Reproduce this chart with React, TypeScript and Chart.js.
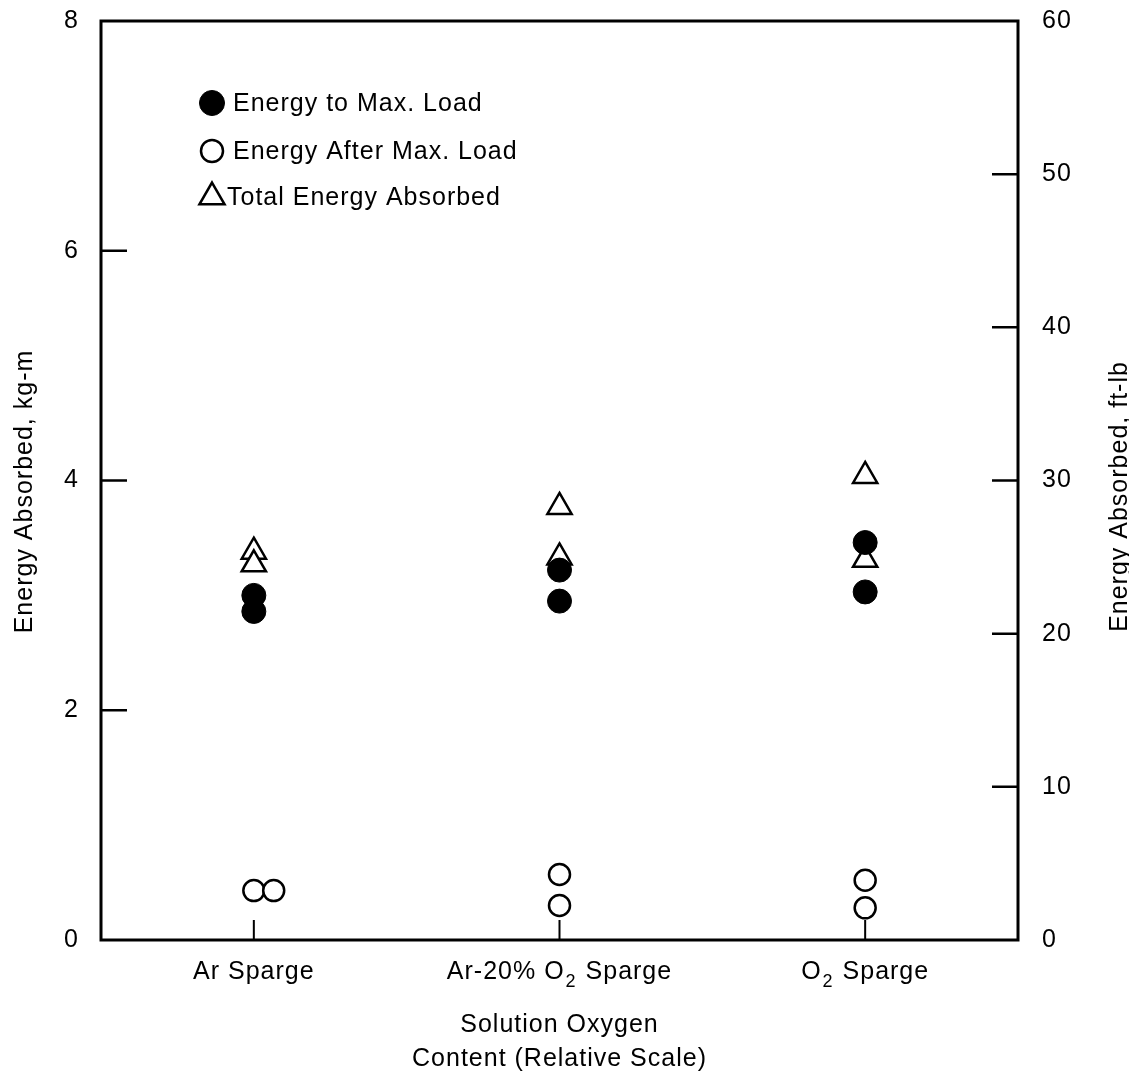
import { useEffect, useRef } from 'react';
import { Chart, registerables } from 'chart.js';
import { drawPoint } from 'chart.js/helpers';

Chart.register(...registerables);

// Sparge conditions, ordered by increasing solution oxygen content
const categories = ['Ar Sparge', 'Ar-20% O\u2082 Sparge', 'O\u2082 Sparge'];

// Two specimens per condition, energies in kg-m
const energyToMaxLoad = [
  [3.0, 2.86],
  [3.22, 2.95],
  [3.46, 3.03],
];
const energyAfterMaxLoad = [
  [0.43, 0.43],
  [0.57, 0.3],
  [0.52, 0.28],
];
const totalEnergyAbsorbed = [
  [3.38, 3.27],
  [3.77, 3.33],
  [4.04, 3.31],
];
// The Ar sparge "after max. load" pair is plotted side by side instead of stacked
const afterMaxLoadSpread = [
  [0, 0.065],
  [0, 0],
  [0, 0],
];

const kgmTicks = [0, 2, 4, 6, 8];
const ftlbTicks = [0, 10, 20, 30, 40, 50, 60];

const leftTitle = 'Energy Absorbed, kg-m';
const rightTitle = 'Energy Absorbed, ft-lb';
const xTitle = ['Solution Oxygen', 'Content (Relative Scale)'];

const FONT = '"Liberation Sans", Arial, Helvetica, sans-serif';
const FONT_SIZE = 25;
const SUB_SIZE = 18;
const TRACKING = '1px';

const toPoints = (series: number[][], spread?: number[][]) =>
  series.flatMap((vals, i) =>
    vals.map((y, j) => ({ x: i + 0.5 + (spread ? spread[i][j] : 0), y }))
  );

// Splits a label into plain runs and subscript digits
const SUBSCRIPT_DIGITS = '\u2080\u2081\u2082\u2083\u2084\u2085\u2086\u2087\u2088\u2089';
const splitSubscripts = (label: string) => {
  const parts: { text: string; sub: boolean }[] = [];
  for (const ch of label) {
    const d = SUBSCRIPT_DIGITS.indexOf(ch);
    const sub = d >= 0;
    const text = sub ? String(d) : ch;
    const last = parts[parts.length - 1];
    if (last && last.sub === sub) last.text += text;
    else parts.push({ text, sub });
  }
  return parts;
};

// Wide tracking of the typeset labels
const trackingPlugin = {
  id: 'tracking',
  beforeUpdate(chart: any) {
    chart.ctx.letterSpacing = TRACKING;
  },
  beforeDraw(chart: any) {
    chart.ctx.letterSpacing = TRACKING;
  },
};

// Boxed frame with inward tick marks on all three scales
const framePlugin = {
  id: 'frame',
  beforeDatasetsDraw(chart: any) {
    const { ctx, chartArea: a, scales } = chart;
    ctx.save();
    ctx.strokeStyle = '#000';
    ctx.lineWidth = 3;
    ctx.strokeRect(a.left, a.top, a.right - a.left, a.bottom - a.top);
    ctx.lineWidth = 2.5;
    ctx.beginPath();
    for (const t of scales.y.ticks) {
      if (t.value > scales.y.min && t.value < scales.y.max) {
        const p = scales.y.getPixelForValue(t.value);
        ctx.moveTo(a.left, p);
        ctx.lineTo(a.left + 26, p);
      }
    }
    for (const t of scales.y2.ticks) {
      if (t.value > scales.y2.min && t.value < scales.y2.max) {
        const p = scales.y2.getPixelForValue(t.value);
        ctx.moveTo(a.right, p);
        ctx.lineTo(a.right - 26, p);
      }
    }
    ctx.stroke();
    ctx.lineWidth = 2;
    ctx.beginPath();
    for (const t of scales.x.ticks) {
      const p = scales.x.getPixelForValue(t.value);
      ctx.moveTo(p, a.bottom);
      ctx.lineTo(p, a.bottom - 20);
    }
    ctx.stroke();
    ctx.restore();
  },
};

// Category labels with true subscripts
const xLabelPlugin = {
  id: 'xLabels',
  afterDraw(chart: any) {
    const { ctx, chartArea: a, scales } = chart;
    const x = scales.x;
    const main = `${FONT_SIZE}px ${FONT}`;
    const small = `${SUB_SIZE}px ${FONT}`;
    const baseline = a.bottom + 39;
    ctx.save();
    ctx.letterSpacing = TRACKING;
    ctx.fillStyle = '#000';
    ctx.textAlign = 'left';
    ctx.textBaseline = 'alphabetic';
    x.ticks.forEach((t: any, i: number) => {
      const parts = splitSubscripts(categories[i] ?? '');
      const widths = parts.map((p) => {
        ctx.font = p.sub ? small : main;
        return ctx.measureText(p.text).width + (p.sub ? 2 : 0);
      });
      const total = widths.reduce((s, w) => s + w, 0);
      let cx = x.getPixelForValue(t.value) - total / 2;
      parts.forEach((p, k) => {
        ctx.font = p.sub ? small : main;
        ctx.fillText(p.text, cx + (p.sub ? 1 : 0), baseline + (p.sub ? 8 : 0));
        cx += widths[k];
      });
    });
    ctx.restore();
  },
};

// Key in the upper-left corner of the plot, plus the two vertical axis titles
const keyPlugin = {
  id: 'key',
  afterDatasetsDraw(chart: any) {
    const { ctx, chartArea: a } = chart;
    const rows = [82, 130, 176];
    ctx.save();
    ctx.letterSpacing = TRACKING;
    chart.data.datasets.forEach((ds: any, i: number) => {
      const x = a.left + 111;
      const y = a.top + rows[i];
      ctx.fillStyle = ds.backgroundColor;
      ctx.strokeStyle = ds.borderColor;
      ctx.lineWidth = ds.borderWidth;
      drawPoint(
        ctx,
        { pointStyle: ds.pointStyle, radius: ds.pointRadius + 0.5, borderWidth: ds.borderWidth, rotation: 0 },
        x,
        y
      );
      ctx.fillStyle = '#000';
      ctx.font = `${FONT_SIZE}px ${FONT}`;
      ctx.textAlign = 'left';
      ctx.textBaseline = 'middle';
      ctx.fillText(ds.label, x + (ds.pointStyle === 'triangle' ? 15 : 21), y + 1);
    });

    ctx.font = `${FONT_SIZE}px ${FONT}`;
    ctx.fillStyle = '#000';
    ctx.textAlign = 'center';
    ctx.textBaseline = 'alphabetic';
    const mid = (a.top + a.bottom) / 2;
    ctx.save();
    ctx.translate(32, mid + 11);
    ctx.rotate(-Math.PI / 2);
    ctx.fillText(leftTitle, 0, 0);
    ctx.restore();
    ctx.save();
    ctx.translate(1127, mid + 16);
    ctx.rotate(-Math.PI / 2);
    ctx.fillText(rightTitle, 0, 0);
    ctx.restore();
    ctx.restore();
  },
};

const noScalePadding = (scale: any) => {
  scale.paddingTop = 0;
  scale.paddingBottom = 0;
  scale.paddingLeft = 0;
  scale.paddingRight = 0;
};

export default function App() {
  const canvasRef = useRef<HTMLCanvasElement | null>(null);

  useEffect(() => {
    const canvas = canvasRef.current;
    if (!canvas) return;
    const tickFont = { family: FONT, size: FONT_SIZE };

    const chart = new Chart(canvas, {
      type: 'scatter',
      data: {
        datasets: [
          {
            label: 'Energy to Max. Load',
            data: toPoints(energyToMaxLoad),
            pointStyle: 'circle',
            pointRadius: 12,
            backgroundColor: '#000',
            borderColor: '#000',
            borderWidth: 1,
          },
          {
            label: 'Energy After Max. Load',
            data: toPoints(energyAfterMaxLoad, afterMaxLoadSpread),
            pointStyle: 'circle',
            pointRadius: 10.5,
            backgroundColor: '#fff',
            borderColor: '#000',
            borderWidth: 2.5,
          },
          {
            label: 'Total Energy Absorbed',
            data: toPoints(totalEnergyAbsorbed),
            pointStyle: 'triangle',
            pointRadius: 14,
            backgroundColor: '#fff',
            borderColor: '#000',
            borderWidth: 2.5,
          },
        ],
      },
      options: {
        animation: false,
        responsive: false,
        devicePixelRatio: 1,
        layout: { padding: { top: 21, left: 0, right: 0, bottom: 0 } },
        plugins: {
          legend: { display: false },
          tooltip: { enabled: false },
        },
        scales: {
          x: {
            type: 'linear',
            position: 'bottom',
            min: 0,
            max: categories.length,
            grid: { display: false },
            border: { display: false },
            afterBuildTicks: (scale: any) => {
              scale.ticks = categories.map((_, i) => ({ value: i + 0.5 }));
            },
            afterFit: (scale: any) => {
              scale.height = 140;
              noScalePadding(scale);
            },
            ticks: { display: false, autoSkip: false, maxRotation: 0 },
            title: {
              display: true,
              text: xTitle,
              color: '#000',
              font: { family: FONT, size: FONT_SIZE, lineHeight: '34px' },
              padding: { top: 0, bottom: 4 },
            },
          },
          y: {
            type: 'linear',
            position: 'left',
            min: 0,
            max: 8,
            grid: { display: false },
            border: { display: false },
            afterBuildTicks: (scale: any) => {
              scale.ticks = kgmTicks.map((value) => ({ value }));
            },
            afterFit: (scale: any) => {
              scale.width = 101;
              noScalePadding(scale);
            },
            ticks: { color: '#000', padding: 14, font: tickFont },
          },
          y2: {
            type: 'linear',
            position: 'right',
            min: 0,
            max: 60,
            grid: { display: false },
            border: { display: false },
            afterBuildTicks: (scale: any) => {
              scale.ticks = ftlbTicks.map((value) => ({ value }));
            },
            afterFit: (scale: any) => {
              scale.width = 111;
              noScalePadding(scale);
            },
            ticks: { color: '#000', padding: 16, font: tickFont },
          },
        },
      },
      plugins: [trackingPlugin, framePlugin, xLabelPlugin, keyPlugin],
    } as any);

    return () => chart.destroy();
  }, []);

  return (
    <div style={{ position: 'absolute', left: 0, top: 0, width: 1129, height: 1080, background: '#fff' }}>
      <canvas ref={canvasRef} width={1129} height={1080} style={{ display: 'block' }} />
    </div>
  );
}
